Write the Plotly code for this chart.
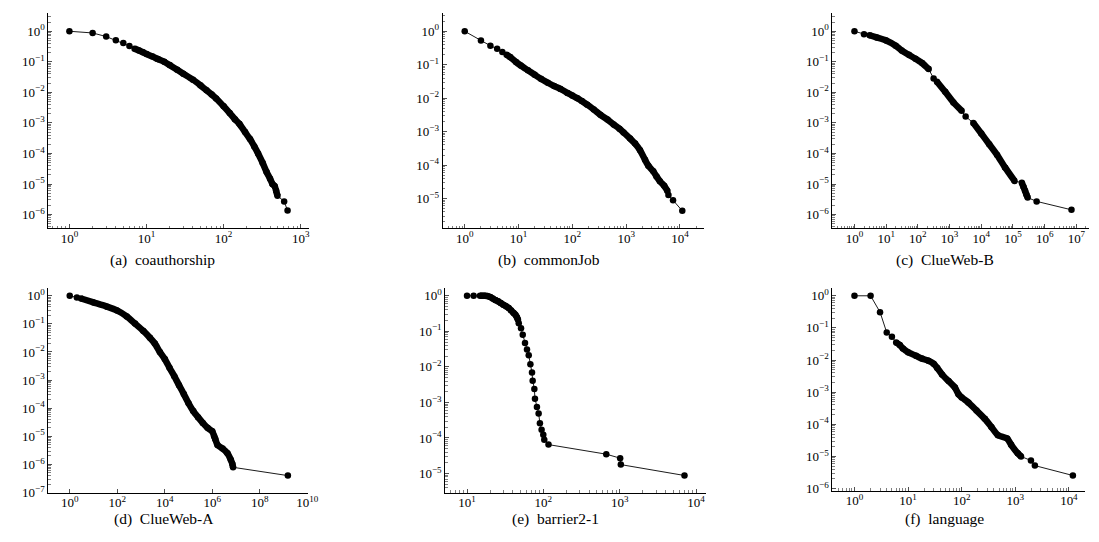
import math
import plotly.graph_objects as go

# ---------------- data ----------------
coauth_x = [1, 2, 3, 4, 5, 6, 7, 8, 9, 10, 12, 14, 17, 20, 25, 30, 40, 50, 60, 70,
            80, 100, 120, 140, 160, 190, 220, 250, 280, 320, 360, 400, 430, 460, 480, 500, 610, 675]
coauth_y = [1.0, 0.88, 0.67, 0.51, 0.41, 0.33, 0.27, 0.235, 0.205, 0.18, 0.148, 0.123, 0.10, 0.078,
            0.055, 0.041, 0.026, 0.017, 0.0117, 0.0085, 0.0063, 0.0035, 0.0021, 0.00132, 0.00093,
            5.0e-4, 2.95e-4, 1.7e-4, 1.0e-4, 5.0e-5, 2.5e-5, 1.5e-5, 1.0e-5, 8.5e-6, 6.0e-6,
            4.1e-6, 2.7e-6, 1.35e-6]

job_x = [1, 2, 3, 4, 5, 6, 7, 9, 11, 15, 20, 26, 35, 46, 60, 81, 100, 124, 150, 189,
         250, 332, 450, 585, 750, 893, 1185, 1465, 1810, 2240, 2580, 3190, 3660, 4230, 5080,
         5850, 6100, 7430, 11040]
job_y = [1.0, 0.53, 0.37, 0.30, 0.24, 0.20, 0.17, 0.12, 0.095, 0.068, 0.05, 0.038, 0.029, 0.023,
         0.019, 0.0144, 0.012, 0.010, 0.0082, 0.0064, 0.0046, 0.0032, 0.0023, 0.00164, 0.00122,
         0.00095, 6.2e-4, 4.4e-4, 2.8e-4, 1.44e-4, 9.6e-5, 6.5e-5, 4.6e-5, 3.3e-5, 2.4e-5,
         1.68e-5, 1.28e-5, 8.9e-6, 4.3e-6]

clueb_x = [1, 2, 3, 5, 10, 20, 31, 52, 84, 136, 219, 314, 400, 728, 1320, 2400, 3210, 5600,
           10000, 17800, 31600, 56000, 112000, 190000, 215000, 240000, 265000, 290000, 556000,
           7000000]
clueb_y = [1.0, 0.80, 0.74, 0.63, 0.50, 0.337, 0.233, 0.169, 0.126, 0.091, 0.058, 0.0285, 0.0223,
           0.0104, 0.0047, 0.0025, 0.00162, 0.001, 4.5e-4, 2.0e-4, 8.9e-5, 3.5e-5, 1.26e-5,
           1.1e-5, 8.0e-6, 6.0e-6, 4.5e-6, 3.6e-6, 2.7e-6, 1.43e-6]

cluea_x = [1, 2, 3, 10, 37, 97, 250, 560, 1250, 2370, 3800, 6200, 10000, 15800, 25100, 39800,
           63100, 100000, 158000, 251000, 398000, 631000, 1.0e6, 1.2e6, 1.33e6, 1.66e6, 2.7e6,
           4.35e6, 6.0e6, 7.0e6, 7.5e6, 1.52e9]
cluea_y = [1.0, 0.875, 0.80, 0.58, 0.41, 0.30, 0.184, 0.102, 0.056, 0.032, 0.020, 0.01, 0.0056,
           0.00275, 0.00138, 6.6e-4, 3.2e-4, 1.5e-4, 7.9e-5, 4.8e-5, 3.0e-5, 2.0e-5, 1.5e-5,
           1.0e-5, 8.0e-6, 4.9e-6, 3.7e-6, 2.5e-6, 1.46e-6, 1.03e-6, 7.9e-7, 4.0e-7]

barrier_x = [10, 12.2, 14.8, 15.8, 17.1, 18.5, 20.1, 21.7, 23.5, 25.5, 27.6, 29.9, 32.4, 35.1,
             37.9, 40.7, 43.2, 45, 46.5, 47.6, 51, 53.7, 57.5, 61, 64.3, 67.6, 71, 72.4, 76.2,
             77.6, 82.4, 86.7, 90.1, 94.8, 99.8, 102.8, 116.8, 667, 1014, 1035, 7060]
barrier_y = [1.0, 1.0, 1.0, 1.0, 1.0, 0.98, 0.92, 0.84, 0.76, 0.70, 0.63, 0.56, 0.51, 0.45,
             0.385, 0.33, 0.29, 0.25, 0.21, 0.168, 0.122, 0.080, 0.047, 0.031, 0.0214, 0.0119,
             0.0069, 0.0041, 0.0024, 0.00127, 7.4e-4, 4.9e-4, 2.6e-4, 1.69e-4, 1.23e-4, 8.9e-5,
             6.5e-5, 3.5e-5, 2.7e-5, 1.78e-5, 8.8e-6]

lang_x = [1, 2, 3, 4, 5, 6, 7, 8, 10, 14, 18, 24, 30, 35, 43, 57, 75, 87, 100, 133, 189, 270,
          358, 475, 706, 838, 1110, 1280, 1960, 2320, 11860]
lang_y = [1.0, 1.0, 0.31, 0.072, 0.053, 0.035, 0.0295, 0.023, 0.0175, 0.0136, 0.0112, 0.0095,
          0.0077, 0.0057, 0.00355, 0.00222, 0.00139, 8.7e-4, 6.9e-4, 4.8e-4, 2.7e-4, 1.49e-4,
          8.3e-5, 4.6e-5, 3.6e-5, 2.3e-5, 1.26e-5, 1.0e-5, 7.5e-6, 5.2e-6, 2.56e-6]

captions = ["(a)\u00a0 coauthorship", "(b)\u00a0 commonJob", "(c)\u00a0 ClueWeb-B",
            "(d)\u00a0 ClueWeb-A", "(e)\u00a0 barrier2-1", "(f)\u00a0 language"]

# tick label exponents
xexp = [[0, 1, 2, 3], [0, 1, 2, 3, 4], [0, 1, 2, 3, 4, 5, 6, 7],
        [0, 2, 4, 6, 8, 10], [1, 2, 3, 4], [0, 1, 2, 3, 4]]
yexp = [[0, -1, -2, -3, -4, -5, -6], [0, -1, -2, -3, -4, -5], [0, -1, -2, -3, -4, -5, -6],
        [0, -1, -2, -3, -4, -5, -6, -7], [0, -1, -2, -3, -4, -5], [0, -1, -2, -3, -4, -5, -6]]

series = [(coauth_x, coauth_y), (job_x, job_y), (clueb_x, clueb_y),
          (cluea_x, cluea_y), (barrier_x, barrier_y), (lang_x, lang_y)]

# ---------------- layout / style ----------------
W, H = 1099, 542
boxes = [(40.7, 4, 304, 222.7), (439, 4, 702.7, 222.7), (832.7, 4, 1091.7, 222.7),
         (40.7, 283.3, 303.3, 491.7), (441.7, 283.3, 705, 491.7), (832.7, 283.3, 1088.3, 490)]
xranges = [(-0.274, 3.107), (-0.411, 4.44), (-0.697, 7.39), (-0.903, 10.04), (0.715, 4.13), (-0.412, 4.308)]
yranges = [(-6.44, 0.60), (-5.88, 0.549), (-6.44, 0.60), (-7.0, 0.29), (-5.535, 0.23), (-6.07, 0.255)]
dense = [[(7, 500)], [(6, 5850)], [(3, 219), (400, 2400), (5600, 112000), (190000, 290000)],
         [(3, 7.5e6)], [(14.8, 46.5)], [(6, 1280)]]
xminor = [True, True, True, False, True, True]
cap_pos = [(156, 255), (546, 255), (946, 255), (158, 519), (553, 519), (946, 519)]

FONT = "Liberation Serif"


def sup(e):
    return "10<sup>" + ("\u2212" + str(-e) if e < 0 else str(e)) + "</sup>"


def minor_vals(lo, hi):
    vals = []
    for k in range(math.floor(lo) - 1, math.ceil(hi) + 1):
        for m in range(2, 10):
            v = m * 10.0 ** k
            if lo <= math.log10(v) <= hi:
                vals.append(v)
    return vals


fig = go.Figure()
layout = dict(width=W, height=H, margin=dict(l=0, r=0, t=0, b=0), autosize=False,
              paper_bgcolor="white", plot_bgcolor="white", showlegend=False)

for i in range(6):
    n = "" if i == 0 else str(i + 1)
    xa, ya = "x" + n, "y" + n
    xs, ys = series[i]
    for lo, hi in dense[i]:
        sx = [a for a, b in zip(xs, ys) if lo <= a <= hi]
        sy = [b for a, b in zip(xs, ys) if lo <= a <= hi]
        fig.add_trace(go.Scatter(x=sx, y=sy, mode="lines", xaxis=xa, yaxis=ya,
                                 line=dict(color="black", width=6.5, shape="spline", smoothing=0.6),
                                 hoverinfo="skip"))
    fig.add_trace(go.Scatter(x=xs, y=ys, mode="lines+markers", xaxis=xa, yaxis=ya,
                             line=dict(color="black", width=0.9),
                             marker=dict(color="black", size=6.5)))
    x0, y0, x1, y1 = boxes[i]
    common = dict(type="log", showline=True, linecolor="black", linewidth=1,
                  showgrid=False, zeroline=False, ticks="inside", ticklen=4,
                  tickwidth=0.8, tickcolor="#505050",
                  tickfont=dict(family=FONT, size=13, color="black"))
    xminor_cfg = dict(ticks="inside", ticklen=2.5, tickwidth=0.6, tickcolor="#808080",
                      tickmode="array", tickvals=minor_vals(*xranges[i])) if xminor[i] else dict(ticks="")
    layout["xaxis" + n] = dict(common, domain=[x0 / W, x1 / W], range=list(xranges[i]),
                               anchor=ya, tickmode="array", ticklabelstandoff=-2,
                               tickvals=[10.0 ** e for e in xexp[i]],
                               ticktext=[sup(e) for e in xexp[i]],
                               minor=xminor_cfg)
    layout["yaxis" + n] = dict(common, domain=[1 - y1 / H, 1 - y0 / H], range=list(yranges[i]),
                               anchor=xa, tickmode="array",
                               tickvals=[10.0 ** e for e in yexp[i]],
                               ticktext=[sup(e) for e in yexp[i]],
                               minor=dict(ticks="inside", ticklen=2.5, tickwidth=0.6,
                                          tickcolor="#808080", tickmode="array",
                                          tickvals=minor_vals(*yranges[i])))

annotations = []
for i in range(6):
    cx, cy = cap_pos[i]
    annotations.append(dict(text=captions[i], xref="paper", yref="paper", x=cx / W, y=1 - cy / H,
                            xanchor="center", yanchor="middle", showarrow=False,
                            font=dict(family=FONT, size=15.5, color="black")))
layout["annotations"] = annotations
fig.update_layout(**layout)
fig.write_html("out.html")
